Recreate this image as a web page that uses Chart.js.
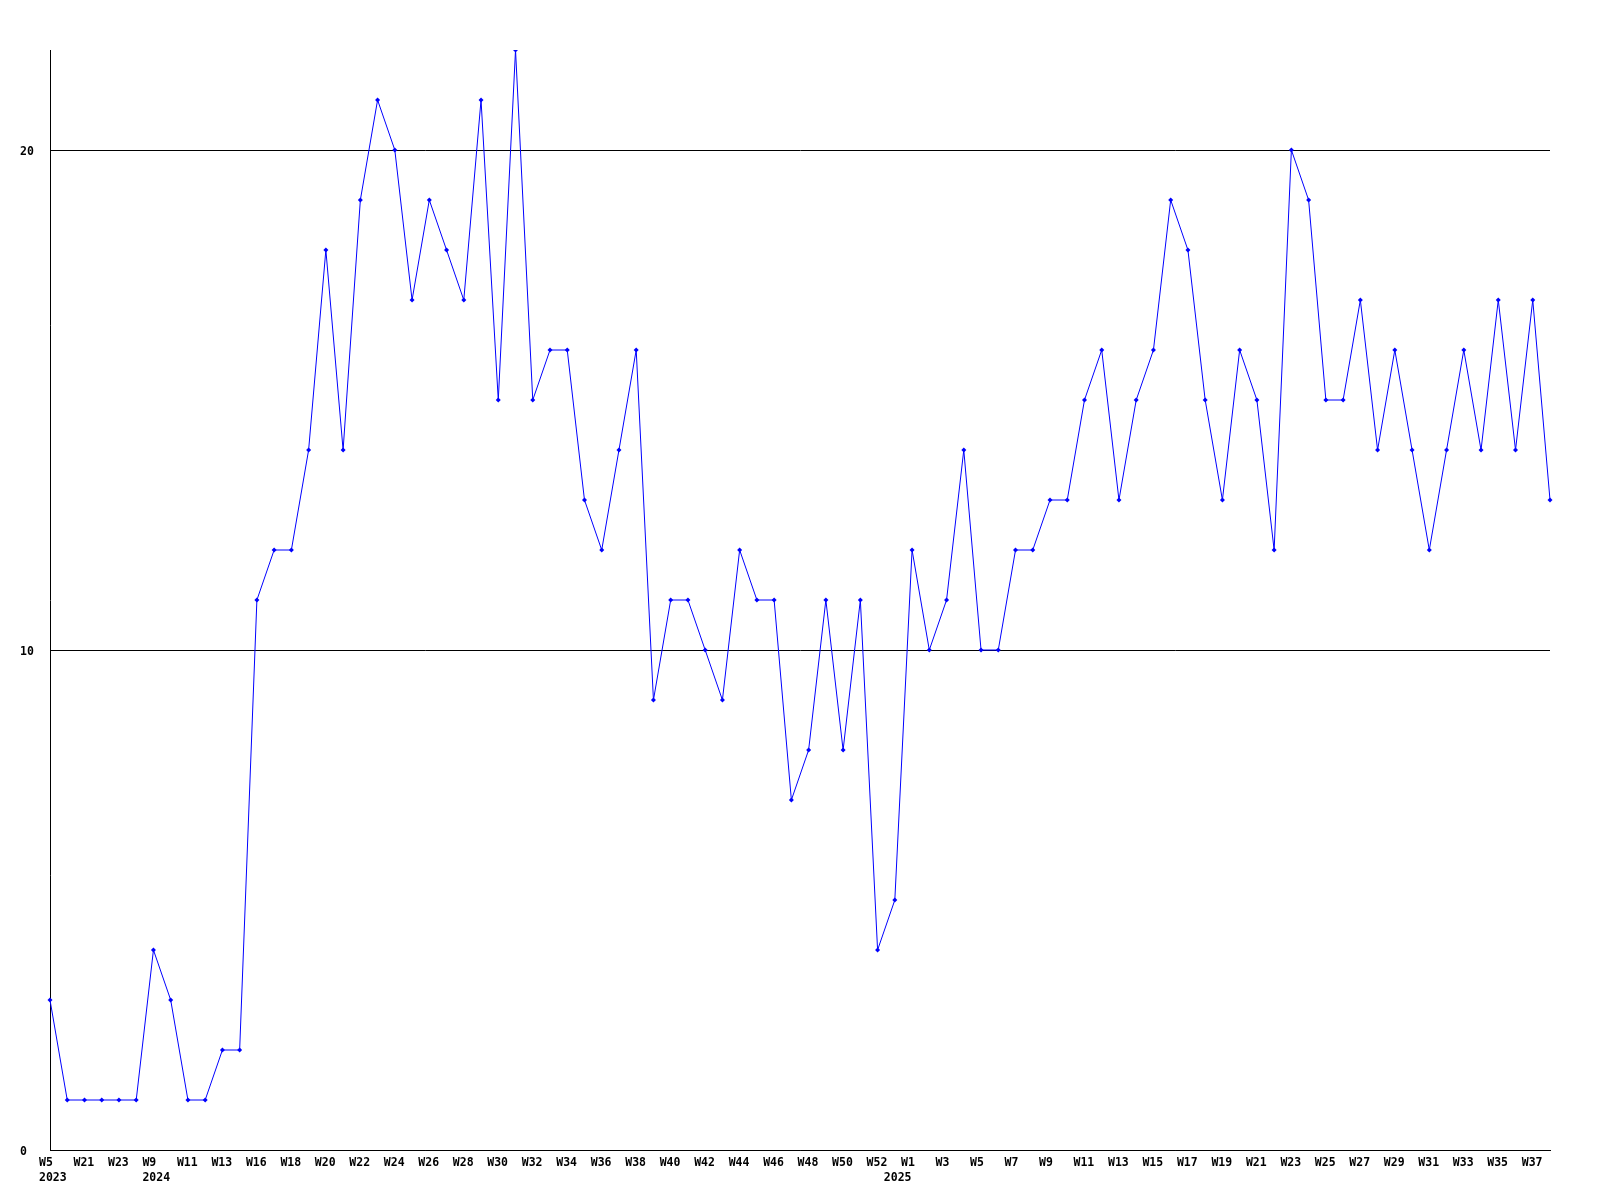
<!DOCTYPE html>
<html>
<head>
<meta charset="utf-8">
<title>Weekly count</title>
<script src="https://cdn.jsdelivr.net/npm/chart.js"></script>
<style>
  html, body { margin: 0; padding: 0; background: #fff; }
  #wrap { width: 1600px; height: 1200px; }
</style>
</head>
<body>
<div id="wrap"><canvas id="chart" width="1600" height="1200"></canvas></div>
<script>
// week labels per point, year shown where a new year starts
const weeks = [
  'W5', 'W20', 'W21', 'W22', 'W23', 'W24',
  'W9', 'W10', 'W11', 'W12', 'W13', 'W15', 'W16', 'W17', 'W18', 'W19', 'W20', 'W21',
  'W22', 'W23', 'W24', 'W25', 'W26', 'W27', 'W28', 'W29', 'W30', 'W31', 'W32', 'W33',
  'W34', 'W35', 'W36', 'W37', 'W38', 'W39', 'W40', 'W41', 'W42', 'W43', 'W44', 'W45',
  'W46', 'W47', 'W48', 'W49', 'W50', 'W51', 'W52',
  'W0', 'W1', 'W2', 'W3', 'W4', 'W5', 'W6', 'W7', 'W8', 'W9', 'W10', 'W11', 'W12',
  'W13', 'W14', 'W15', 'W16', 'W17', 'W18', 'W19', 'W20', 'W21', 'W22', 'W23', 'W24',
  'W25', 'W26', 'W27', 'W28', 'W29', 'W30', 'W31', 'W32', 'W33', 'W34', 'W35', 'W36',
  'W37', 'W38'
];
const yearStarts = { 0: '2023', 6: '2024', 49: '2025' };

const counts = [
  3, 1, 1, 1, 1, 1,
  4, 3, 1, 1, 2, 2, 11, 12, 12, 14, 18, 14,
  19, 21, 20, 17, 19, 18, 17, 21, 15, 22, 15, 16,
  16, 13, 12, 14, 16, 9, 11, 11, 10, 9, 12, 11,
  11, 7, 8, 11, 8, 11, 4,
  5, 12, 10, 11, 14, 10, 10, 12, 12, 13, 13, 15, 16,
  13, 15, 16, 19, 18, 15, 13, 16, 15, 12, 20, 19,
  15, 15, 17, 14, 16, 14, 12, 14, 16, 14, 17, 14,
  17, 13
];

const yTicks = [0, 10, 20];
const yMax = 22;

const tickFont = { family: 'DejaVu Sans Mono', size: 11.5, weight: 'bold', lineHeight: 1.35 };

new Chart(document.getElementById('chart'), {
  type: 'line',
  data: {
    labels: weeks,
    datasets: [{
      data: counts,
      borderColor: '#0000ff',
      backgroundColor: '#0000ff',
      borderWidth: 1,
      tension: 0,
      fill: false,
      pointStyle: 'rectRot',
      pointRadius: 2.5,
      pointBorderWidth: 0
    }]
  },
  options: {
    responsive: false,
    animation: false,
    layout: { padding: { left: 20, right: 50, top: 50, bottom: 0 } },
    plugins: { legend: { display: false }, tooltip: { enabled: false } },
    scales: {
      x: {
        type: 'category',
        offset: false,
        grid: { display: false, drawTicks: false },
        border: { display: true, color: '#000', width: 1 },
        afterFit(scale) { scale.height = 50; },
        ticks: {
          autoSkip: false,
          maxRotation: 0,
          minRotation: 0,
          align: 'start',
          labelOffset: -11,
          padding: 5,
          color: '#000',
          font: tickFont,
          callback(value, index) {
            const wk = index % 2 === 0 ? weeks[index] : '';
            return yearStarts[index] ? [wk, yearStarts[index]] : wk;
          }
        }
      },
      y: {
        min: 0,
        max: yMax,
        afterBuildTicks(scale) { scale.ticks = yTicks.map(v => ({ value: v })); },
        afterFit(scale) { scale.width = 30; },
        grid: { color: '#000', lineWidth: 1, drawTicks: false },
        border: { display: true, color: '#000', width: 1 },
        ticks: {
          crossAlign: 'far',
          padding: 0,
          labelOffset: 2,
          color: '#000',
          font: tickFont
        }
      }
    }
  }
});
</script>
</body>
</html>
